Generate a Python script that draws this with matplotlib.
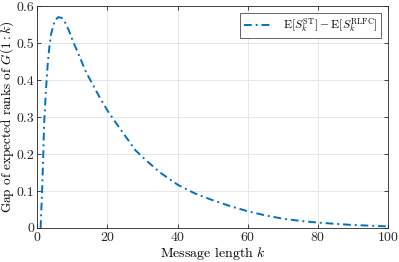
import matplotlib
matplotlib.use("Agg")
import matplotlib.pyplot as plt

# values
k_vals = [1, 1.5, 2, 2.5, 3, 3.5, 4, 5, 6, 7, 8, 9, 10, 12, 14, 16, 18, 20,
          22, 25, 28, 31, 35, 40, 45, 50, 55, 60, 65, 70, 75, 80, 85, 90,
          95, 100]
gap_vals = [0.0, 0.12, 0.28, 0.37, 0.44, 0.49, 0.525, 0.56, 0.57, 0.568,
            0.555, 0.535, 0.51, 0.465, 0.42, 0.385, 0.35, 0.318, 0.29, 0.25,
            0.21, 0.183, 0.15, 0.117, 0.093, 0.075, 0.059, 0.045, 0.034,
            0.025, 0.019, 0.0145, 0.011, 0.008, 0.006, 0.004]
x_ticks = [0, 20, 40, 60, 80, 100]
y_ticks = [0, 0.1, 0.2, 0.3, 0.4, 0.5, 0.6]

plt.rcParams["font.family"] = "serif"
plt.rcParams["font.serif"] = ["cmr10"]
plt.rcParams["mathtext.fontset"] = "cm"
plt.rcParams["axes.formatter.use_mathtext"] = True

fig = plt.figure(figsize=(3.99, 2.62), dpi=100)
ax = fig.add_axes([0.093, 0.130, 0.880, 0.847])

ax.plot(k_vals, gap_vals, linestyle=(0, (4, 2, 1, 2)), color="#0072BD",
        linewidth=1.4,
        label=r"$\mathrm{E}[S_k^{\mathrm{ST}}]-\mathrm{E}[S_k^{\mathrm{RLFC}}]$")

ax.set_xlim(0, 100)
ax.set_ylim(0, 0.6)
ax.set_xticks(x_ticks)
ax.set_yticks(y_ticks)
ax.set_yticklabels(["0", "0.1", "0.2", "0.3", "0.4", "0.5", "0.6"])
ax.grid(True, color="#e6e6e6", linewidth=0.7)
ax.set_axisbelow(True)
ax.tick_params(direction="in", top=True, right=True, length=3, width=0.6,
               labelsize=10, colors="#262626", pad=2)
for s in ax.spines.values():
    s.set_color("#262626")
    s.set_linewidth(0.6)

ax.set_xlabel(r"Message length $k$", fontsize=10, labelpad=1)
ax.set_ylabel(r"Gap of expected ranks of $G(1:k)$", fontsize=9.5, labelpad=0)

leg = ax.legend(loc="upper right", fontsize=8.5, fancybox=False,
                edgecolor="#262626", framealpha=1, handlelength=2.5,
                borderpad=0.3, borderaxespad=0.6)
leg.get_frame().set_linewidth(0.5)

fig.savefig("out.png", dpi=100)
